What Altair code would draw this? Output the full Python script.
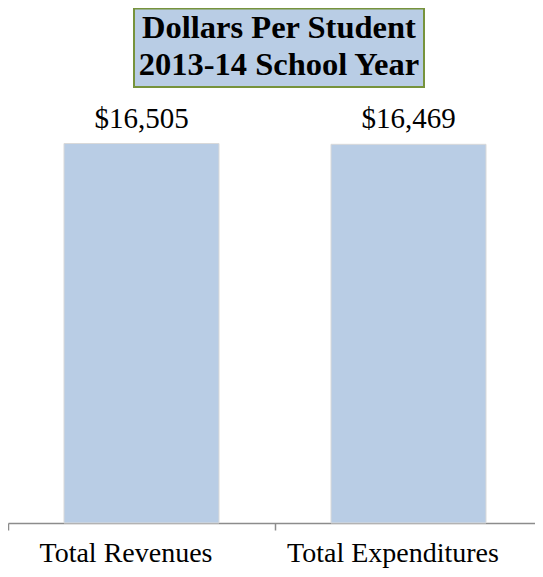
import altair as alt
import pandas as pd

categories = ["Total Revenues", "Total Expenditures"]
values = [16505, 16469]
labels = ["$16,505", "$16,469"]
title_lines = ["Dollars Per Student", "2013-14 School Year"]

df = pd.DataFrame({"category": categories, "value": values, "label": labels})

PLOT_W = 527
PLOT_H = 515
AXIS_Y = 8 + PLOT_H          # page y of the x axis
YMAX = 16505 * PLOT_H / (AXIS_Y - 143.5)

FONT = "Liberation Serif"

base = alt.Chart(df).encode(
    x=alt.X(
        "category:N",
        sort=categories,
        scale=alt.Scale(paddingInner=0, paddingOuter=0, range=[0, 534]),
        axis=alt.Axis(
            title=None,
            labelAngle=0,
            labelFont=FONT,
            labelFontSize=28,
            labelColor="black",
            labelPadding=9,
            labelOffset=-16,
            labelLimit=0,
            tickBand="extent",
            tickSize=7,
            tickColor="#8c8c8c",
            domainColor="#8c8c8c",
            domainWidth=1.5,
            tickWidth=1.5,
            grid=False,
        ),
    ),
)

bars = base.mark_bar(size=155, color="#b9cde5", stroke="#d9d9d9", strokeWidth=1).encode(
    y=alt.Y("value:Q", scale=alt.Scale(domain=[0, YMAX], nice=False), axis=None)
)

text = base.mark_text(font=FONT, fontSize=29, color="black", baseline="alphabetic", dy=-16).encode(
    y=alt.Y("value:Q"), text="label:N"
)

# title box drawn in plot coordinates
box = alt.Chart(pd.DataFrame({"t": [0]})).mark_rect(
    fill="#b9cde5", stroke="#77933c", strokeWidth=2
).encode(x=alt.value(126), x2=alt.value(416), y=alt.value(0.5), y2=alt.value(79))

title_text = alt.Chart(pd.DataFrame({"t": ["\n".join(title_lines)]})).mark_text(
    font=FONT, fontSize=32.5, fontWeight="bold", color="black", lineBreak="\n",
    lineHeight=37, baseline="alphabetic", align="center"
).encode(x=alt.value(271), y=alt.value(30), text="t:N")

chart = alt.layer(box, title_text, bars, text).properties(
    width=PLOT_W, height=PLOT_H,
    padding={"left": 0, "top": 0, "right": 0, "bottom": 46},
    autosize=alt.AutoSizeParams(type="none"),
).configure_view(stroke=None)

chart.save("out.html", embed_options={"renderer": "svg", "actions": False})
